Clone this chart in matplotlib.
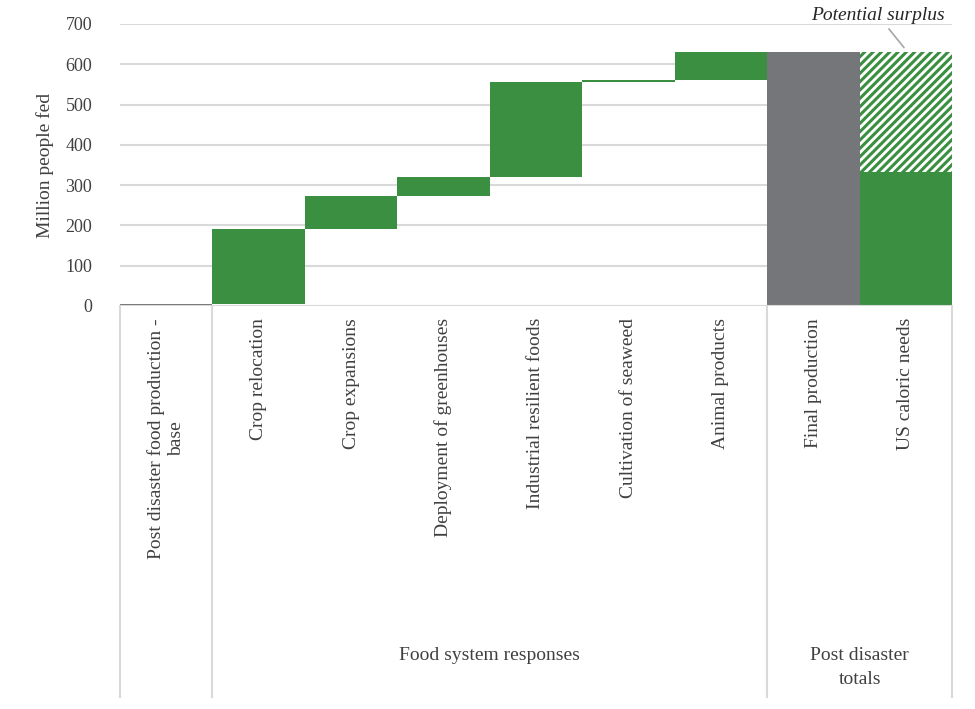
import matplotlib
matplotlib.use("Agg")
import matplotlib.pyplot as plt
from matplotlib.lines import Line2D

plt.rcParams['font.family'] = ['Liberation Serif', 'DejaVu Serif']
plt.rcParams['hatch.color'] = '#3a8f41'
plt.rcParams['hatch.linewidth'] = 2.2

categories = ["Post disaster food production -\nbase", "Crop relocation", "Crop expansions",
              "Deployment of greenhouses", "Industrial resilient foods", "Cultivation of seaweed",
              "Animal products", "Final production", "US caloric needs"]
steps = [6, 185, 82, 47, 236, 5, 69]
final_production = 630
us_needs = 333
groups = [("Food system responses", 1, 6), ("Post disaster\ntotals", 7, 8)]
green = '#3a8f41'
grey = '#747679'

W, H = 975, 709
fig = plt.figure(figsize=(W/100, H/100), dpi=100)
ax = fig.add_axes([120/W, 1-306/H, (952-120)/W, (306-24)/H])

bottom = 0
for i, s in enumerate(steps):
    ax.bar(i, s, bottom=bottom, width=1.0, color=grey if i == 0 else green, linewidth=0)
    bottom += s
ax.bar(7, final_production, width=1.0, color=grey, linewidth=0)
ax.bar(8, us_needs, width=1.0, color=green, linewidth=0)
ax.bar(8, final_production-us_needs, bottom=us_needs, width=1.0, color='white',
       hatch='////', edgecolor=green, linewidth=0)

ax.set_xlim(-0.5, 8.5)
ax.set_ylim(0, 700)
ax.set_yticks(range(0, 701, 100))
ax.tick_params(axis='y', length=0, labelsize=13, colors='#404040', pad=20)
ax.set_xticks([])
ax.grid(axis='y', color='#d9d9d9', lw=1.5)
ax.set_axisbelow(True)
for s in ax.spines.values():
    s.set_visible(False)
ax.axhline(0, color='#d9d9d9', lw=1.5)
ax.set_ylabel("Million people fed", fontsize=14, color='#404040', labelpad=8)

ax.annotate("Potential surplus", xy=(8, 636), xytext=(7.7, 700), fontsize=14, style='italic',
            color='#262626', ha='center', va='bottom', annotation_clip=False,
            arrowprops=dict(arrowstyle='-', color='#a6a6a6', lw=1.2))

# category labels
cw = (952-120)/9
for i, c in enumerate(categories):
    x = (120 + cw*(i+0.5))/W
    fig.text(x, 1-318/H, c, rotation=90, ha='center', va='top', fontsize=14, color='#404040',
             multialignment='center')

def vline(px, y0, y1):
    fig.add_artist(Line2D([px/W]*2, [1-y0/H, 1-y1/H], color='#d9d9d9', lw=1.5))
for b in [0, 1, 7, 9]:
    vline(120 + cw*b, 306, 697)
for b in [2, 3, 4, 5, 6, 8]:
    pass
for name, a, b in groups:
    x = (120 + cw*((a+b+1)/2))/W
    fig.text(x, 1-647/H, name, ha='center', va='top', fontsize=14, color='#404040', linespacing=1.5)

fig.savefig("out.png", dpi=100)
